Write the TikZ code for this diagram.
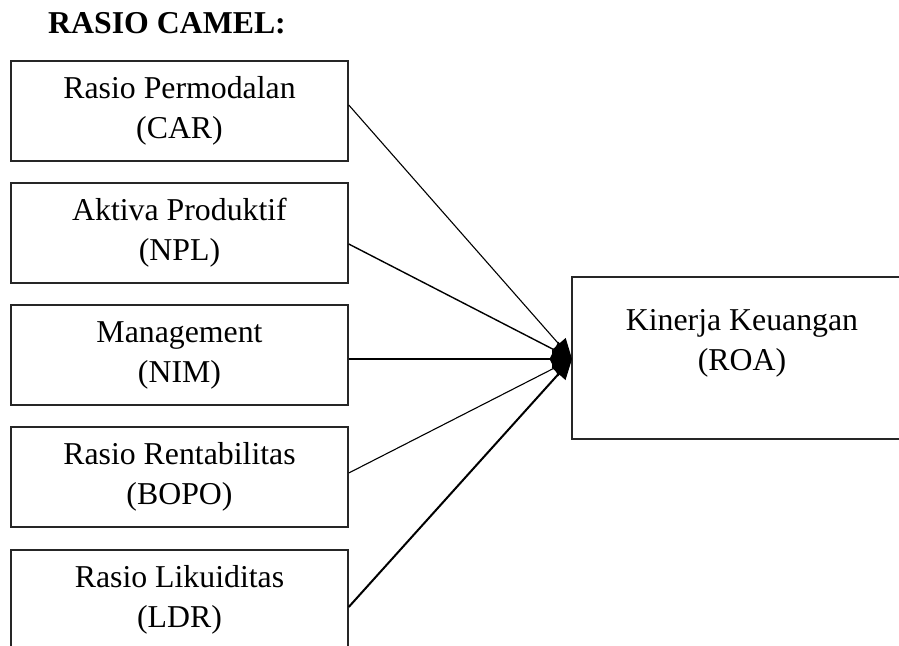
\documentclass[tikz,border=0pt]{standalone}
\usepackage{fontspec}
\setmainfont{Liberation Serif}
\usetikzlibrary{arrows.meta}
\begin{document}
\begin{tikzpicture}[x=1pt,y=-1pt,
  boxfont/.style={font=\fontsize{31.8}{40}\selectfont},
  lbox/.style={draw=black!85,line width=1.5pt,minimum width=337pt,minimum height=100pt,inner sep=0pt,align=center,boxfont},
  rbox/.style={draw=black!85,line width=1.5pt,minimum width=340pt,minimum height=162pt,inner sep=0pt},
  txt/.style={inner sep=0pt,align=center,boxfont},
  conn/.style={draw=black,-{Triangle[length=20pt 0 0,width=18pt 0 0]}}]
\useasboundingbox (0,0) rectangle (899,645);
\clip (0,0) rectangle (899,645);
\node[anchor=base west,inner sep=0pt,font=\bfseries\fontsize{31.8}{40}\selectfont] (title) at (48,33) {RASIO CAMEL:};
\node[lbox] (b1) at (179.5,111) {Rasio Permodalan\\(CAR)};
\node[lbox] (b2) at (179.5,233) {Aktiva Produktif\\(NPL)};
\node[lbox] (b3) at (179.5,355) {Management\\(NIM)};
\node[lbox] (b4) at (179.5,477) {Rasio Rentabilitas\\(BOPO)};
\node[lbox] (b5) at (179.5,600) {Rasio Likuiditas\\(LDR)};
\node[rbox] (roa) at (742,358) {};
\node[txt] (roat) at (742,343.6) {Kinerja Keuangan\\(ROA)};
\coordinate (tip) at (572,359);
\draw[conn,line width=1.1pt] ([yshift=6pt]b1.east) -- (tip);
\draw[conn,line width=1.4pt] ([yshift=-11pt]b2.east) -- (tip);
\draw[conn,line width=1.5pt] ([yshift=-4pt]b3.east) -- (tip);
\draw[conn,line width=1.1pt] ([yshift=4pt]b4.east) -- (tip);
\draw[conn,line width=2pt] ([yshift=-7pt]b5.east) -- (tip);
\end{tikzpicture}
\end{document}
